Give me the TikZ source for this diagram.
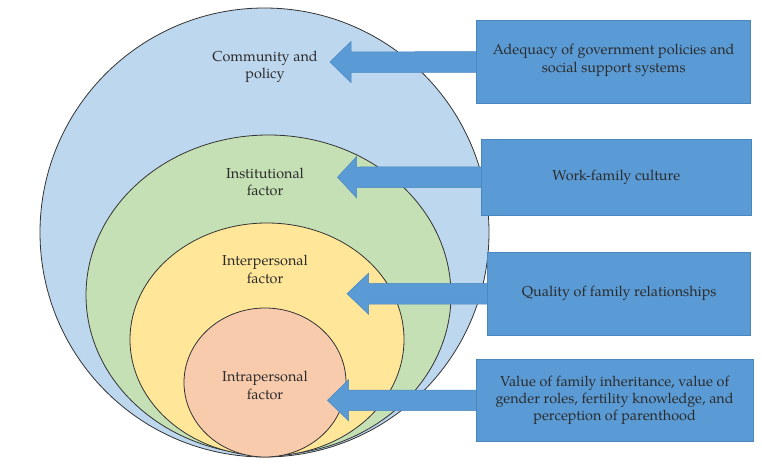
\documentclass[tikz,border=0pt]{standalone}
\usepackage{fontspec}
\setmainfont{texgyrepagella}[Extension=.otf,UprightFont=*-regular,BoldFont=*-bold,ItalicFont=*-italic,BoldItalicFont=*-bolditalic]
\usetikzlibrary{shapes.geometric,calc}
\definecolor{cblue}{HTML}{BDD7EE}
\definecolor{cgreen}{HTML}{C5E0B4}
\definecolor{cyellow}{HTML}{FFE699}
\definecolor{corange}{HTML}{F8CBAD}
\definecolor{boxblue}{HTML}{5B9BD5}
\definecolor{boxedge}{HTML}{4A86BF}
\definecolor{txt}{HTML}{2B2B2B}
\tikzset{
  ring/.style={ellipse, draw=black!80, line width=0.8pt, inner sep=0pt},
  lab/.style={align=center, text=txt, font=\fontsize{14.4}{17.4}\selectfont},
  factbox/.style={rectangle, fill=boxblue, draw=boxedge, line width=0.6pt, inner sep=0pt, align=center, text=txt, font=\fontsize{14.4}{17.3}\selectfont},
  blockarrow/.style={fill=boxblue, draw=boxedge, line width=0.5pt, line join=miter},
}
\begin{document}
\begin{tikzpicture}[x=1pt,y=-1pt]
\useasboundingbox (0,0) rectangle (762,463);
% rings
\node[ring, fill=cblue, minimum width=449pt, minimum height=449pt] (c1) at (264.5,232.5) {};
\node[ring, fill=cgreen, minimum width=365pt, minimum height=320pt] (c2) at (268.5,295) {};
\node[ring, fill=cyellow, minimum width=274pt, minimum height=233pt] (c3) at (267,339.5) {};
\node[ring, fill=corange, minimum width=162pt, minimum height=149pt] (c4) at (265,382.5) {};
% ring labels
\node[lab] (l1) at (265,67) {Community and\\policy};
\node[lab] (l2) at (265,182) {Institutional\\factor};
\node[lab] (l3) at (265,269.5) {Interpersonal\\factor};
\node[lab] (l4) at (265,385.5) {Intrapersonal\\factor};
% arrow tips
\coordinate (t1) at (330,62);
\coordinate (t2) at (337.5,177.2);
\coordinate (t3) at (347,293.7);
\coordinate (t4) at (327.5,400.3);
% boxes
\node[factbox, minimum width=274pt, minimum height=82.6pt] (b1) at (613.7,62) {};
\node[align=center, text=txt, font=\fontsize{14.4}{17.3}\selectfont, inner sep=0pt] (b1t) at (613.7,60.4) {Adequacy of government policies and\\social support systems};
\node[factbox, minimum width=269.3pt, minimum height=75.7pt] (b2) at (616.35,177.2) {Work-family culture};
\node[factbox, minimum width=263pt, minimum height=82.7pt] (b3) at (619.2,293.7) {Quality of family relationships};
\node[factbox, minimum width=277.3pt, minimum height=82.7pt] (b4) at (614.65,400.3) {Value of family inheritance, value of\\gender roles, fertility knowledge, and\\perception of parenthood};
% arrows
\foreach \t/\b/\hl in {t1/b1/21, t2/b2/19, t3/b3/21.5, t4/b4/21}{
  \path[blockarrow] (\t) -- ++(\hl,-20.5) -- ++(0,10.3) -- ([yshift=10.3pt]\b.west) -- ([yshift=-10.3pt]\b.west) -- ($(\t)+(\hl,10.3)$) -- ($(\t)+(\hl,20.5)$) -- cycle;
}
\end{tikzpicture}
\end{document}
